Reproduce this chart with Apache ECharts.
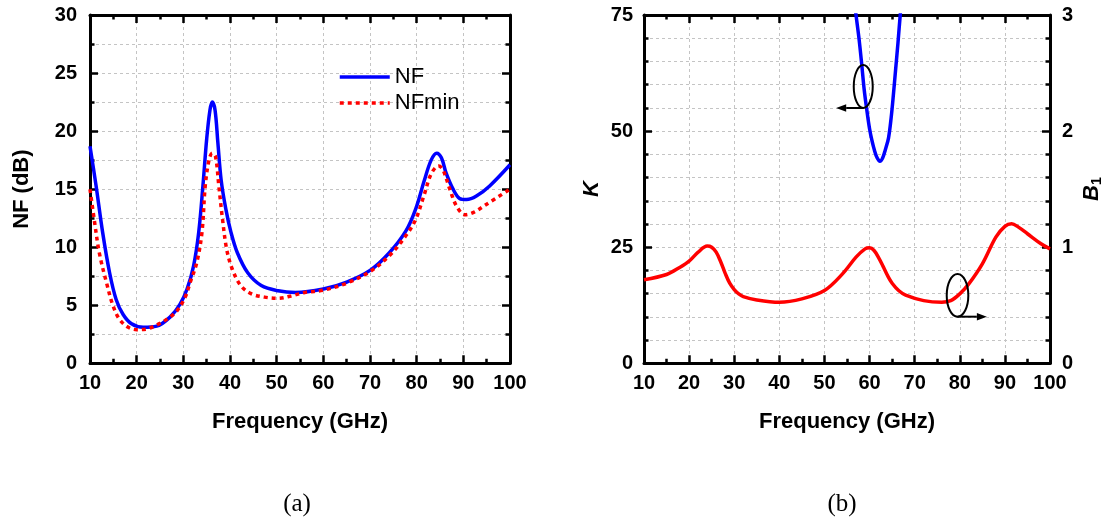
<!DOCTYPE html>
<html>
<head>
<meta charset="utf-8">
<script src="https://cdn.jsdelivr.net/npm/echarts@6/dist/echarts.min.js"></script>
<style>
  html, body { margin: 0; padding: 0; background: #fff; }
  #chart { width: 1105px; height: 523px; }
</style>
</head>
<body>
<div id="chart"></div>
<script>
// ---- (a) noise figure versus frequency ----
const nfFreq = [10, 11.3, 12.7, 14.2, 15.6, 17.1, 18.9, 21.4, 24.3, 27.2, 29.3, 30.8, 32.2, 33.3, 34.2, 35.0, 35.7, 36.2, 36.8, 37.4, 38.1, 39.1, 40.2, 41.6, 43.8, 46.7, 50.3, 54, 60, 65, 70, 74.1, 77.7, 79.8, 81.6, 83.1, 84.3, 85.3, 86.3, 87.8, 89.2, 90.7, 92.8, 95.7, 100];
const nfVals = [18.7, 15.3, 11.3, 7.8, 5.5, 4.2, 3.4, 3.1, 3.2, 4.0, 5.1, 6.4, 8.4, 11.3, 15.3, 19.3, 21.8, 22.5, 21.8, 19.0, 15.8, 13.3, 11.3, 9.5, 7.8, 6.7, 6.25, 6.1, 6.4, 7.0, 8.0, 9.5, 11.4, 13.3, 15.7, 17.5, 18.1, 17.7, 16.4, 15.0, 14.2, 14.1, 14.4, 15.3, 17.1];

const nfminFreq = [10, 10.9, 12.0, 13.5, 14.9, 16.3, 18.2, 20.0, 22.1, 24.3, 26.5, 28.6, 30.4, 31.5, 32.9, 34.0, 34.7, 35.5, 36.2, 36.9, 37.6, 38.4, 39.3, 40.5, 42.3, 44.5, 47.4, 50.3, 53.1, 56.0, 60, 65, 70, 74.1, 77.7, 79.8, 81.6, 83.1, 84.7, 85.6, 87.1, 88.6, 90.4, 92.2, 95.0, 100];
const nfminVals = [15.0, 12.4, 9.5, 7.0, 5.0, 3.8, 3.1, 2.9, 2.95, 3.3, 3.8, 4.5, 5.7, 7.0, 8.7, 11.3, 15.3, 17.5, 18.1, 17.8, 15.3, 12.4, 9.8, 8.1, 6.7, 6.0, 5.7, 5.6, 5.8, 6.1, 6.3, 6.9, 7.9, 9.25, 11.0, 12.4, 14.5, 16.3, 17.0, 16.7, 15.0, 13.5, 12.8, 13.0, 13.7, 15.0];

// ---- (b) stability factor K and B1 ----
const kFreq = [56.5, 57.0, 57.7, 58.3, 58.8, 59.4, 60.0, 60.5, 61.1, 61.7, 62.3, 62.9, 63.5, 64.2, 64.8, 65.3, 65.8, 66.3, 66.8, 67.2];
const kVals = [79, 75.0, 69.6, 64.0, 59.0, 54.5, 50.5, 48.1, 45.8, 44.2, 43.5, 44.2, 46.0, 48.5, 53.0, 58.0, 63.5, 69.0, 75.0, 79];

const b1Freq = [10, 15, 18, 20, 22, 24, 25, 26, 27, 28, 29, 30, 31, 32, 35, 40, 45, 50, 54, 57, 59, 60, 61, 62, 63, 64, 65, 66.5, 68, 72, 76, 78, 80, 82, 85, 88, 90, 91.5, 93, 95, 98, 100];
const b1Vals = [0.719, 0.765, 0.828, 0.88, 0.957, 1.01, 1.0, 0.957, 0.875, 0.775, 0.69, 0.635, 0.598, 0.575, 0.546, 0.526, 0.555, 0.627, 0.77, 0.914, 0.986, 0.995, 0.972, 0.91, 0.835, 0.755, 0.69, 0.625, 0.588, 0.54, 0.526, 0.54, 0.598, 0.684, 0.857, 1.087, 1.18, 1.202, 1.173, 1.116, 1.03, 0.986];

const pairs = (xs, ys) => xs.map((x, i) => [x, ys[i]]);

const FONT = 'Liberation Sans';
const gridLine = { show: true, lineStyle: { color: '#c4c4c4', width: 1, type: [3, 3] } };
const noLine = { show: false };
const LINE_W = 3.5;

function axisCommon(extra) {
  return Object.assign({
    type: 'value',
    axisLine: { show: true, onZero: false, lineStyle: { color: '#000', width: 3 } },
    axisTick: { show: true, inside: true, length: 8, lineStyle: { color: '#000', width: 2.5 } },
    minorTick: { show: true, length: 4.5, lineStyle: { color: '#000', width: 2.5 } },
    axisLabel: { show: true, color: '#000', fontFamily: FONT, fontWeight: 'bold', fontSize: 20 },
    splitLine: noLine,
    minorSplitLine: noLine
  }, extra);
}

const titleStyle = { color: '#000', fontFamily: FONT, fontWeight: 'bold', fontSize: 22 };

const option = {
  backgroundColor: '#fff',
  animation: false,
  grid: [
    { left: 90, top: 15, width: 420, height: 348.3, outerBoundsMode: 'none' },
    { left: 644, top: 15, width: 406, height: 348.3, outerBoundsMode: 'none' }
  ],
  legend: {
    orient: 'vertical', left: 333, top: 61,
    itemWidth: 50, itemHeight: 14, itemGap: 4,
    selectedMode: false,
    data: ['NF', 'NFmin'],
    itemStyle: { opacity: 0 },
    lineStyle: { width: LINE_W },
    textStyle: { color: '#000', fontFamily: FONT, fontSize: 22, lineHeight: 22 }
  },
  xAxis: [
    axisCommon({ gridIndex: 0, position: 'bottom', min: 10, max: 100, interval: 10,
      minorTick: { show: true, splitNumber: 2, length: 4.5, lineStyle: { color: '#000', width: 2.5 } },
      axisLabel: { color: '#000', fontFamily: FONT, fontWeight: 'bold', fontSize: 20, margin: 10 },
      splitLine: gridLine,
      name: 'Frequency (GHz)', nameLocation: 'middle', nameGap: 48, nameTextStyle: titleStyle }),
    axisCommon({ gridIndex: 0, position: 'top', min: 10, max: 100, interval: 10,
      minorTick: { show: true, splitNumber: 2, length: 4.5, lineStyle: { color: '#000', width: 2.5 } },
      axisLabel: { show: false } }),
    axisCommon({ gridIndex: 1, position: 'bottom', min: 10, max: 100, interval: 10,
      minorTick: { show: true, splitNumber: 2, length: 4.5, lineStyle: { color: '#000', width: 2.5 } },
      axisLabel: { color: '#000', fontFamily: FONT, fontWeight: 'bold', fontSize: 20, margin: 10 },
      splitLine: gridLine,
      name: 'Frequency (GHz)', nameLocation: 'middle', nameGap: 48, nameTextStyle: titleStyle }),
    axisCommon({ gridIndex: 1, position: 'top', min: 10, max: 100, interval: 10,
      minorTick: { show: true, splitNumber: 2, length: 4.5, lineStyle: { color: '#000', width: 2.5 } },
      axisLabel: { show: false } })
  ],
  yAxis: [
    axisCommon({ gridIndex: 0, position: 'left', min: 0, max: 30, interval: 5,
      minorTick: { show: true, splitNumber: 2, length: 4.5, lineStyle: { color: '#000', width: 2.5 } },
      axisLabel: { color: '#000', fontFamily: FONT, fontWeight: 'bold', fontSize: 20, margin: 13 },
      splitLine: gridLine, minorSplitLine: gridLine,
      name: 'NF (dB)', nameLocation: 'middle', nameGap: 57, nameTextStyle: titleStyle }),
    axisCommon({ gridIndex: 0, position: 'right', min: 0, max: 30, interval: 5,
      minorTick: { show: true, splitNumber: 2, length: 4.5, lineStyle: { color: '#000', width: 2.5 } },
      axisLabel: { show: false } }),
    axisCommon({ gridIndex: 1, position: 'left', min: 0, max: 75, interval: 25,
      minorTick: { show: true, splitNumber: 5, length: 4.5, lineStyle: { color: '#000', width: 2.5 } },
      axisLabel: { color: '#000', fontFamily: FONT, fontWeight: 'bold', fontSize: 20, margin: 11 },
      splitLine: gridLine, minorSplitLine: gridLine,
      name: 'K', nameLocation: 'middle', nameGap: 41,
      nameTextStyle: Object.assign({}, titleStyle, { fontStyle: 'italic' }) }),
    axisCommon({ gridIndex: 1, position: 'right', min: 0, max: 3, interval: 1,
      minorTick: { show: true, splitNumber: 5, length: 4.5, lineStyle: { color: '#000', width: 2.5 } },
      axisLabel: { color: '#000', fontFamily: FONT, fontWeight: 'bold', fontSize: 20, margin: 12 },
      name: '{b|B}{s|1}', nameLocation: 'middle', nameGap: 30,
      nameTextStyle: {
        rich: {
          b: { color: '#000', fontFamily: FONT, fontWeight: 'bold', fontStyle: 'italic', fontSize: 22 },
          s: { color: '#000', fontFamily: FONT, fontWeight: 'bold', fontSize: 14, padding: [10, 0, 0, 0] }
        }
      } })
  ],
  series: [
    { name: 'NF', type: 'line', xAxisIndex: 0, yAxisIndex: 0, data: pairs(nfFreq, nfVals),
      symbol: 'none', smooth: 0.35, lineStyle: { color: '#0000ff', width: LINE_W }, itemStyle: { color: '#0000ff' } },
    { name: 'NFmin', type: 'line', xAxisIndex: 0, yAxisIndex: 0, data: pairs(nfminFreq, nfminVals),
      symbol: 'none', smooth: 0.35, lineStyle: { color: '#ff0000', width: LINE_W, type: [4, 4] }, itemStyle: { color: '#ff0000' } },
    { name: 'K', type: 'line', xAxisIndex: 2, yAxisIndex: 2, data: pairs(kFreq, kVals),
      symbol: 'none', smooth: 0.35, clip: true, lineStyle: { color: '#0000ff', width: LINE_W } },
    { name: 'B1', type: 'line', xAxisIndex: 2, yAxisIndex: 3, data: pairs(b1Freq, b1Vals),
      symbol: 'none', smooth: 0.35, lineStyle: { color: '#ff0000', width: LINE_W } }
  ]
};

const chart = echarts.init(document.getElementById('chart'), null, { renderer: 'canvas' });
chart.setOption(option);

// Ellipse-and-arrow markers pointing each curve to its axis
function marker(xAxisIndex, yAxisIndex, center, rx, ry, tipFreq) {
  const c = chart.convertToPixel({ xAxisIndex, yAxisIndex }, center);
  const tip = chart.convertToPixel({ xAxisIndex, yAxisIndex }, [tipFreq, center[1]])[0];
  const y = c[1] + ry;
  const dir = Math.sign(tip - c[0]);
  const headLen = 10, headHalf = 3.8;
  return [
    { type: 'ellipse', shape: { cx: c[0], cy: c[1], rx, ry }, style: { fill: null, stroke: '#000', lineWidth: 2 }, z: 10 },
    { type: 'line', shape: { x1: c[0], y1: y, x2: tip - dir * headLen, y2: y }, style: { stroke: '#000', lineWidth: 2 }, z: 10 },
    { type: 'polygon', shape: { points: [[tip, y], [tip - dir * headLen, y - headHalf], [tip - dir * headLen, y + headHalf]] },
      style: { fill: '#000' }, z: 10 }
  ];
}

const panelLabelStyle = { fill: '#000', fontFamily: 'Liberation Serif', fontSize: 25, align: 'center', verticalAlign: 'middle' };

chart.setOption({
  graphic: [
    ...marker(2, 2, [58.6, 59.6], 9.5, 21.5, 52.6),
    ...marker(2, 3, [79.5, 0.585], 10.8, 21.3, 86.0),
    { type: 'text', x: 297, y: 504, style: Object.assign({ text: '(a)' }, panelLabelStyle) },
    { type: 'text', x: 842, y: 504, style: Object.assign({ text: '(b)' }, panelLabelStyle) }
  ]
});
</script>
</body>
</html>
